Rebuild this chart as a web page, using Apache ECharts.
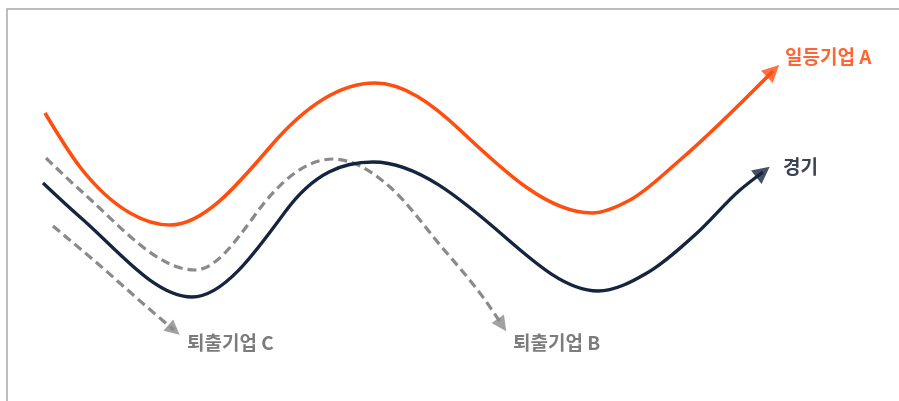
<!DOCTYPE html>
<html>
<head>
<meta charset="utf-8">
<script src="https://cdn.jsdelivr.net/npm/echarts@6/dist/echarts.min.js"></script>
<style>html,body{margin:0;padding:0;background:#fff;}#c{width:899px;height:401px;}</style>
</head>
<body>
<div id="c"></div>
<script>
// Points (x, y in picture pixels; y grows downward)
const leaderA = [[45,113],[80,167],[130,213],[170,225],[270,147],[375,83],[460,130],[592,213],[630,200],[680,160],[773,71]];
const economy = [[43,183],[80,217],[192,297],[285,212],[373,162],[505,237],[598,291],[647,273],[697,233],[740,190],[763,172]];
const exitB = [[46,158],[80,190],[195,270],[255,215],[333,159],[360,166],[390,187],[440,245],[485,300],[502,325]];
const exitC = [[53,226],[97,263],[147,307],[174,330]];
const labels = ['일등기업 A', '경기', '퇴출기업 B', '퇴출기업 C'];

const ORANGE = '#ff4f10', NAVY = '#15243f', GRAY = '#8a8a8a';

function arrowHead(pts) {
  const a = pts[pts.length - 2], b = pts[pts.length - 1];
  const ang = Math.atan2(-(b[1] - a[1]), b[0] - a[0]) * 180 / Math.PI;
  return { value: b, symbolRotate: ang - 90 };
}

// Cubic Hermite path (in x) through pixel points: flat at turning points,
// sine-like slope at a point lying between two turning points.
function smoothPath(p) {
  const n = p.length;
  const h = [], s = [];
  for (let i = 0; i < n - 1; i++) {
    h.push(p[i + 1][0] - p[i][0]);
    s.push((p[i + 1][1] - p[i][1]) / h[i]);
  }
  const ext = new Array(n).fill(false);
  for (let i = 1; i < n - 1; i++) ext[i] = s[i - 1] * s[i] <= 0;
  const t = new Array(n).fill(0);
  for (let i = 1; i < n - 1; i++) {
    if (ext[i]) continue;
    const s0 = s[i - 1], s1 = s[i], a0 = Math.abs(s0), a1 = Math.abs(s1), sg = Math.sign(s0);
    if (ext[i - 1] && ext[i + 1]) {
      t[i] = sg * Math.min(3 * Math.min(a0, a1), 1.5 * Math.max(a0, a1));
    } else {
      const q = (s0 * h[i] + s1 * h[i - 1]) / (h[i - 1] + h[i]);
      t[i] = 2 * sg * Math.min(a0, a1, 0.5 * Math.abs(q));
    }
  }
  t[0] = n > 2 ? (3 * s[0] - t[1]) / 2 : s[0];
  t[n - 1] = n > 2 ? (3 * s[n - 2] - t[n - 2]) / 2 : s[0];
  let d = 'M' + p[0][0] + ' ' + p[0][1];
  for (let i = 0; i < n - 1; i++) {
    const dx = h[i] / 3;
    d += ' C' + (p[i][0] + dx) + ' ' + (p[i][1] + dx * t[i]) + ' ' +
         (p[i + 1][0] - dx) + ' ' + (p[i + 1][1] - dx * t[i + 1]) + ' ' +
         p[i + 1][0] + ' ' + p[i + 1][1];
  }
  return d;
}

function curveSeries(pts, color, width, dashed) {
  return {
    type: 'custom', silent: true, z: 2,
    data: pts,
    encode: { x: 0, y: 1 },
    renderItem: function (params, api) {
      if (params.dataIndex !== 0) return null;
      const p = pts.map(function (d) { return api.coord(d); });
      return {
        type: 'path',
        shape: { pathData: smoothPath(p) },
        style: { fill: null, stroke: color, lineWidth: width, lineDash: dashed ? [9, 5] : null, lineCap: 'butt', lineJoin: 'round' }
      };
    }
  };
}
function headSeries(pts, color, size) {
  return {
    type: 'scatter', data: [arrowHead(pts)], symbol: 'triangle', symbolSize: size,
    itemStyle: { color: color }, silent: true, z: 3
  };
}

const FONT = 'bold 19px "Noto Sans CJK KR"';
const chart = echarts.init(document.getElementById('c'));
chart.setOption({
  animation: false,
  backgroundColor: '#fff',
  grid: { left: 0, right: 0, top: 0, bottom: 0 },
  xAxis: { type: 'value', min: 0, max: 899, show: false },
  yAxis: { type: 'value', min: 0, max: 401, inverse: true, show: false },
  graphic: [
    { type: 'rect', shape: { x: 7, y: 9, width: 1000, height: 600 }, style: { fill: null, stroke: '#a8a8a8', lineWidth: 1.5 }, z: 0 },
    { type: 'text', x: 785, y: 57, style: { text: labels[0], fill: '#ff6435', font: FONT, verticalAlign: 'middle' } },
    { type: 'text', x: 783, y: 167, style: { text: labels[1], fill: '#3b4354', font: FONT, verticalAlign: 'middle' } },
    { type: 'text', x: 513, y: 343, style: { text: labels[2], fill: '#7c7c7c', font: FONT, verticalAlign: 'middle' } },
    { type: 'text', x: 187, y: 343, style: { text: labels[3], fill: '#7c7c7c', font: FONT, verticalAlign: 'middle' } }
  ],
  series: [
    curveSeries(exitB, GRAY, 3.2, true),
    curveSeries(exitC, GRAY, 3.2, true),
    curveSeries(leaderA, ORANGE, 3.6, false),
    curveSeries(economy, NAVY, 3.3, false),
    headSeries(leaderA, ORANGE, 17),
    headSeries(economy, NAVY, 17),
    headSeries(exitB, GRAY, 15),
    headSeries(exitC, GRAY, 15)
  ]
});
</script>
</body>
</html>
